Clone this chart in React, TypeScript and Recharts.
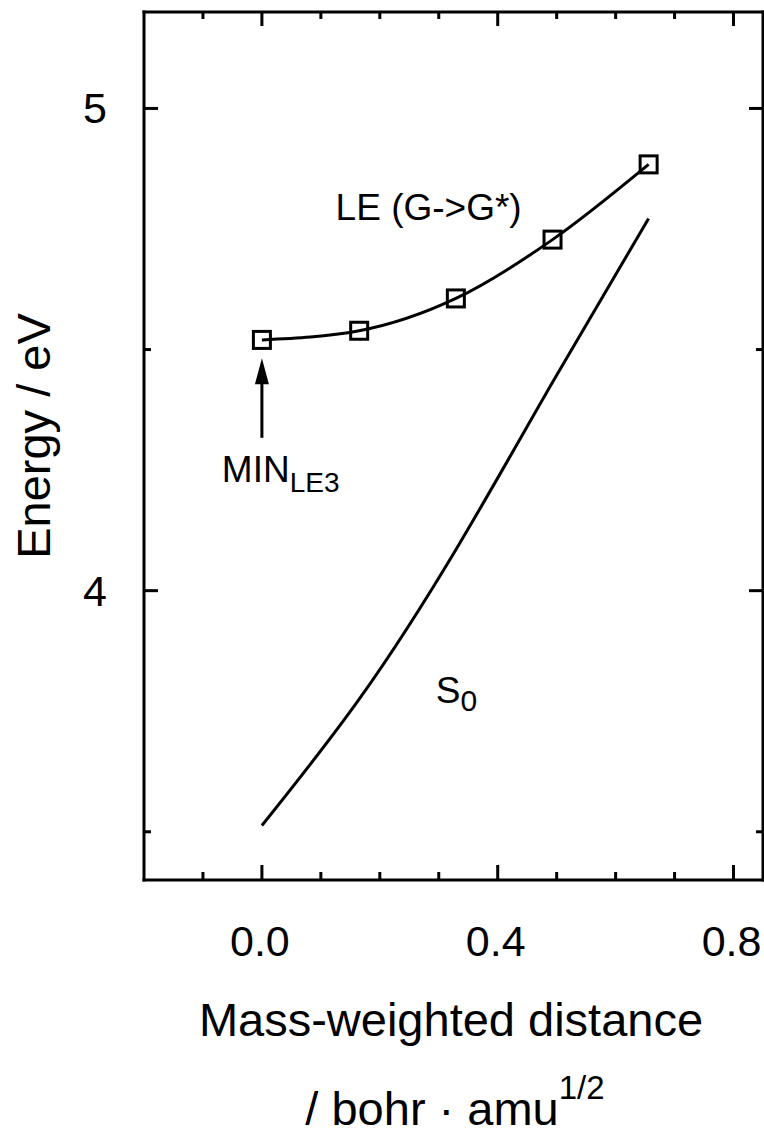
import { LineChart, Line, XAxis, YAxis, ReferenceLine, ReferenceDot } from 'recharts';

const FONT = '"Liberation Sans", Arial, Helvetica, sans-serif';

// LE (G->G*) computed points along the path
const leDistance = [0, 0.165, 0.329, 0.493, 0.656];
const leEnergy = [4.52, 4.539, 4.606, 4.728, 4.884];

// S0 along the same path
const s0Distance = [0, 0.165, 0.329, 0.493, 0.656];
const s0Energy = [3.513, 3.775, 4.085, 4.432, 4.772];

// axes
const xDomain = [-0.2, 0.85];
const yDomain = [3.4, 5.2];
const xTicks = [-0.1, 0, 0.1, 0.2, 0.3, 0.4, 0.5, 0.6, 0.7, 0.8];
const xMajor = [0, 0.4, 0.8];
const yTicks = [3.5, 4, 4.5, 5];
const yMajor = [4, 5];

// annotations (data coords)
const minArrow = [{ x: 0, y: 4.317 }, { x: 0, y: 4.482 }];
const leLabel = { x: 0.125, y: 4.768, text: 'LE (G->G*)' };
const minLabel = { x: -0.068, y: 4.226, text: 'MIN', sub: 'LE3' };
const s0Label = { x: 0.295, y: 3.768, text: 'S', sub: '0' };

const leData = leDistance.map((x, i) => ({ x, e: leEnergy[i] }));
const s0Data = s0Distance.map((x, i) => ({ x, e: s0Energy[i] }));

const BLACK = '#000';
const SW = 3;

const SquareDot = (props: any) => {
  const { cx, cy } = props;
  const s = 17;
  return <rect x={cx - s / 2} y={cy - s / 2} width={s} height={s} fill="none" stroke={BLACK} strokeWidth={SW} />;
};

const isMajor = (list: number[], v: number) => list.some((m) => Math.abs(m - v) < 1e-6);

const BottomTick = (props: any) => {
  const { x, y, payload } = props;
  const major = isMajor(xMajor, payload.value);
  return (
    <g>
      <line x1={x} y1={y} x2={x} y2={y - (major ? 15 : 8)} stroke={BLACK} strokeWidth={SW} />
      {major && (
        <text x={x - 2} y={y + 76} textAnchor="middle" fontSize={43} fontFamily={FONT} fill={BLACK}>
          {payload.value.toFixed(1)}
        </text>
      )}
    </g>
  );
};

const TopTick = (props: any) => {
  const { x, y, payload } = props;
  const major = isMajor(xMajor, payload.value);
  return <line x1={x} y1={y} x2={x} y2={y + (major ? 14 : 7)} stroke={BLACK} strokeWidth={SW} />;
};

const LeftTick = (props: any) => {
  const { x, y, payload } = props;
  const major = isMajor(yMajor, payload.value);
  return (
    <g>
      <line x1={x} y1={y} x2={x + (major ? 14 : 7)} y2={y} stroke={BLACK} strokeWidth={SW} />
      {major && (
        <text x={x - 37} y={y + 15} textAnchor="end" fontSize={43} fontFamily={FONT} fill={BLACK}>
          {String(payload.value)}
        </text>
      )}
    </g>
  );
};

const RightTick = (props: any) => {
  const { x, y, payload } = props;
  const major = isMajor(yMajor, payload.value);
  return <line x1={x} y1={y} x2={x - (major ? 14 : 7)} y2={y} stroke={BLACK} strokeWidth={SW} />;
};

const Arrow = (props: any) => {
  const { x1, y1, x2, y2 } = props;
  const tipY = Math.min(y1, y2);
  const tailY = Math.max(y1, y2);
  return (
    <g>
      <line x1={x1} y1={tailY} x2={x2} y2={tipY + 20} stroke={BLACK} strokeWidth={SW} />
      <polygon points={`${x1},${tipY} ${x1 - 7},${tipY + 26} ${x1 + 7},${tipY + 26}`} fill={BLACK} />
    </g>
  );
};

const axisLineStyle = { stroke: BLACK, strokeWidth: SW, strokeLinecap: 'square' as const };

// shared props for the four frame axes (1px thick so they still render)
const frameAxis = {
  allowDataOverflow: true,
  interval: 0 as const,
  tickSize: 0,
  tickMargin: 0,
  tickLine: false,
  axisLine: axisLineStyle,
};

export default function App() {
  return (
    <div style={{ position: 'absolute', left: 0, top: 0, background: '#fff' }}>
      <LineChart width={764} height={1134} margin={{ top: 11, right: 0, left: 143, bottom: 253 }}>
        <XAxis xAxisId="bottom" type="number" dataKey="x" domain={xDomain} ticks={xTicks} height={1} tick={<BottomTick />} {...frameAxis} />
        <XAxis xAxisId="top" orientation="top" type="number" dataKey="x" domain={xDomain} ticks={xTicks} height={1} tick={<TopTick />} {...frameAxis} />
        <YAxis yAxisId="left" type="number" domain={yDomain} ticks={yTicks} width={1} tick={<LeftTick />} {...frameAxis} />
        <YAxis yAxisId="right" orientation="right" type="number" domain={yDomain} ticks={yTicks} width={1} tick={<RightTick />} {...frameAxis} />

        {/* S0 curve */}
        <Line
          xAxisId="bottom"
          yAxisId="left"
          data={s0Data}
          dataKey="e"
          type="natural"
          stroke={BLACK}
          strokeWidth={SW}
          dot={false}
          activeDot={false}
          isAnimationActive={false}
        />
        {/* LE (G->G*) */}
        <Line
          xAxisId="bottom"
          yAxisId="left"
          data={leData}
          dataKey="e"
          type="monotone"
          stroke={BLACK}
          strokeWidth={SW}
          dot={<SquareDot />}
          activeDot={false}
          isAnimationActive={false}
        />

        <ReferenceLine xAxisId="bottom" yAxisId="left" segment={minArrow} shape={Arrow} />

        <ReferenceDot
          xAxisId="bottom"
          yAxisId="left"
          x={leLabel.x}
          y={leLabel.y}
          shape={(p: any) => (
            <text x={p.cx} y={p.cy} fontSize={37} fontFamily={FONT} fill={BLACK}>
              {leLabel.text}
            </text>
          )}
        />
        <ReferenceDot
          xAxisId="bottom"
          yAxisId="left"
          x={minLabel.x}
          y={minLabel.y}
          shape={(p: any) => (
            <text x={p.cx} y={p.cy} fontSize={37} fontFamily={FONT} fill={BLACK}>
              {minLabel.text}
              <tspan fontSize={28} dy={10}>{minLabel.sub}</tspan>
            </text>
          )}
        />
        <ReferenceDot
          xAxisId="bottom"
          yAxisId="left"
          x={s0Label.x}
          y={s0Label.y}
          shape={(p: any) => (
            <text x={p.cx} y={p.cy} fontSize={37} fontFamily={FONT} fill={BLACK}>
              {s0Label.text}
              <tspan fontSize={30} dy={8}>{s0Label.sub}</tspan>
            </text>
          )}
        />

        <text x={50} y={436} transform="rotate(-90 50 436)" textAnchor="middle" fontSize={47} fontFamily={FONT} fill={BLACK}>
          Energy / eV
        </text>
        <text x={451} y={1036} textAnchor="middle" fontSize={47} fontFamily={FONT} fill={BLACK}>
          Mass-weighted distance
        </text>
        <text x={455} y={1125} textAnchor="middle" fontSize={47} fontFamily={FONT} fill={BLACK}>
          / bohr · amu
          <tspan fontSize={33} dy={-26}>1/2</tspan>
        </text>
      </LineChart>
    </div>
  );
}
